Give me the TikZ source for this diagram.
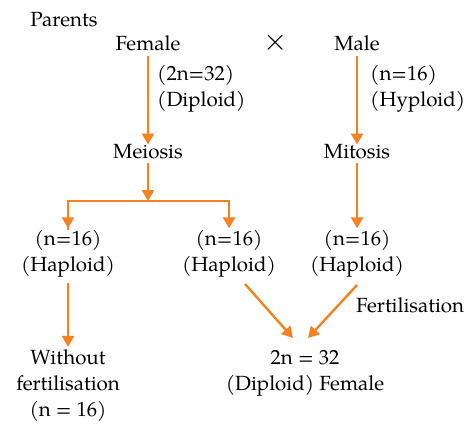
\documentclass[tikz,border=0pt]{standalone}
\usepackage{fontspec}
\setmainfont{TeX Gyre Pagella}
\usetikzlibrary{arrows.meta}
\definecolor{arr}{RGB}{245,130,32}
\begin{document}
\begin{tikzpicture}[x=1pt,y=-1pt,
  lbl/.style={font=\fontsize{20.5}{26}\selectfont, inner sep=0pt, align=center},
  side/.style={lbl, align=left, anchor=west},
  flow/.style={draw=arr, line width=2.4pt, -{Triangle[width=12pt,length=11pt]}},
  tie/.style={draw=arr, line width=2.4pt}]
\useasboundingbox (0,0) rectangle (470,424);

% parents
\node[lbl] (parents) at (64,20) {Parents};
\node[lbl] (female) at (148,43) {Female};
\node[inner sep=0pt, font=\fontsize{20}{20}\selectfont, scale=1.5] (cross) at (276,43) {$\times$};
\node[lbl] (male) at (357,43) {Male};
\node[side] (flab) at (157,89) {(2n=32)\\(Diploid)};
\node[side] (mlab) at (370,89) {(n=16)\\(Hyploid)};

% divisions
\node[lbl] (meiosis) at (148,152) {Meiosis};
\node[lbl] (mitosis) at (357,152) {Mitosis};

% gametes
\node[lbl] (h1) at (68,254) {(n=16)\\(Haploid)};
\node[lbl] (h2) at (229,254) {(n=16)\\(Haploid)};
\node[lbl] (h3) at (357,254) {(n=16)\\(Haploid)};

% offspring
\node[lbl] (parth) at (68,386) {Without\\fertilisation\\(n = 16)};
\node[lbl] (zyg) at (305,373) {2n = 32\\(Diploid) Female};
\node[side] (fert) at (356,305) {Fertilisation};

% connectors
\coordinate (split) at (148,201);
\draw[flow, shorten <=5pt] (female) -- (meiosis);
\draw[flow, shorten <=5pt] (male) -- (mitosis);
\draw[flow, shorten <=3pt] (meiosis) -- (split);
\draw[tie] (split) -| (h1);
\draw[flow, shorten >=2pt] (split) -| (h2);
\draw[flow, shorten >=2pt] (split) -| (h1);
\draw[flow, shorten <=3pt, shorten >=2pt] (mitosis) -- (h3);
\draw[flow, shorten <=5pt, shorten >=3pt] (h1) -- (parth);
\coordinate (d1s) at (245,284);
\coordinate (d1e) at (293,338);
\coordinate (d2s) at (357,285);
\coordinate (d2e) at (308,338);
\draw[flow] (d1s) -- (d1e);
\draw[flow] (d2s) -- (d2e);
\end{tikzpicture}
\end{document}
